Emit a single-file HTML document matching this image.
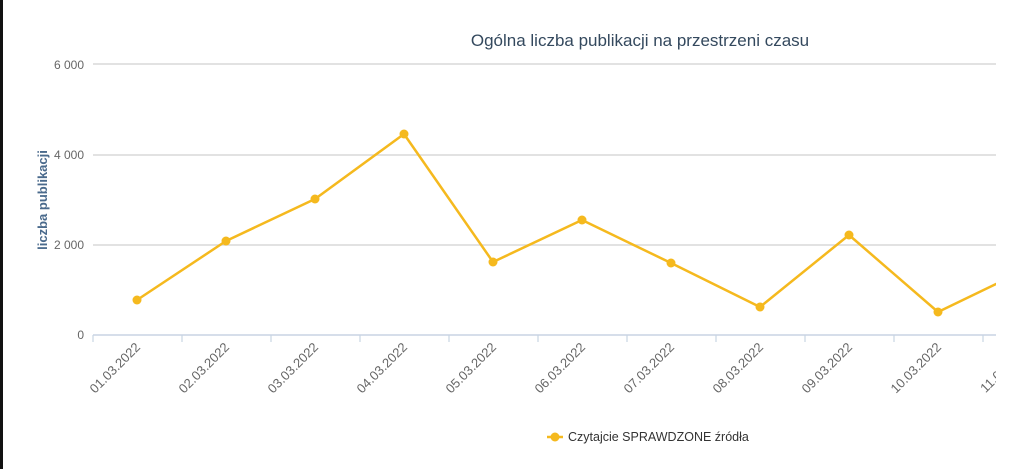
<!DOCTYPE html>
<html><head><meta charset="utf-8"><style>
body{margin:0;background:#fff;}
svg{display:block;font-family:"Liberation Sans",sans-serif;}
</style></head><body>
<svg width="1024" height="469" viewBox="0 0 1024 469">
<rect x="0" y="0" width="1024" height="469" fill="#fff"/>
<rect x="0" y="0" width="3" height="469" fill="#111"/>
<text x="640" y="46" text-anchor="middle" font-size="17" fill="#34495e">Ogólna liczba publikacji na przestrzeni czasu</text>
<g stroke="#d8d8d8" stroke-width="1.5">
<line x1="93" y1="64" x2="996" y2="64"/>
<line x1="93" y1="155" x2="996" y2="155"/>
<line x1="93" y1="245" x2="996" y2="245"/>
</g>
<line x1="93" y1="335" x2="996" y2="335" stroke="#c8d4e3" stroke-width="1.5"/>
<g stroke="#c8d4e3" stroke-width="1.2">
<line x1="93" y1="335" x2="93" y2="342"/><line x1="182" y1="335" x2="182" y2="342"/><line x1="271" y1="335" x2="271" y2="342"/><line x1="360" y1="335" x2="360" y2="342"/><line x1="449" y1="335" x2="449" y2="342"/><line x1="538" y1="335" x2="538" y2="342"/><line x1="627" y1="335" x2="627" y2="342"/><line x1="716" y1="335" x2="716" y2="342"/><line x1="805" y1="335" x2="805" y2="342"/><line x1="894" y1="335" x2="894" y2="342"/><line x1="983" y1="335" x2="983" y2="342"/>
</g>
<g font-size="12" fill="#666" text-anchor="end">
<text x="84" y="69">6 000</text><text x="84" y="159">4 000</text><text x="84" y="249">2 000</text><text x="84" y="339">0</text>
</g>
<text transform="translate(47,200) rotate(-90)" text-anchor="middle" font-size="13" font-weight="bold" fill="#4a6a8c">liczba publikacji</text>
<g font-size="13" fill="#666" text-anchor="end">
<text transform="translate(141,348) rotate(-45)">01.03.2022</text>
<text transform="translate(230,348) rotate(-45)">02.03.2022</text>
<text transform="translate(319,348) rotate(-45)">03.03.2022</text>
<text transform="translate(408,348) rotate(-45)">04.03.2022</text>
<text transform="translate(497,348) rotate(-45)">05.03.2022</text>
<text transform="translate(586,348) rotate(-45)">06.03.2022</text>
<text transform="translate(675,348) rotate(-45)">07.03.2022</text>
<text transform="translate(764,348) rotate(-45)">08.03.2022</text>
<text transform="translate(853,348) rotate(-45)">09.03.2022</text>
<text transform="translate(942,348) rotate(-45)">10.03.2022</text>
</g>
<clipPath id="c"><rect x="0" y="0" width="996" height="469"/></clipPath>
<g clip-path="url(#c)">
<text transform="translate(1031,348) rotate(-45)" text-anchor="end" font-size="13" fill="#666">11.03.2022</text>
<polyline fill="none" stroke="#f5b91e" stroke-width="2.5" stroke-linejoin="round" points="137,300 226,241 315,199 404,134 493,262 582,220 671,263 760,307 849,235 938,312 1027,269"/>
<g fill="#f5b91e">
<circle cx="137" cy="300" r="4.5"/><circle cx="226" cy="241" r="4.5"/><circle cx="315" cy="199" r="4.5"/><circle cx="404" cy="134" r="4.5"/><circle cx="493" cy="262" r="4.5"/><circle cx="582" cy="220" r="4.5"/><circle cx="671" cy="263" r="4.5"/><circle cx="760" cy="307" r="4.5"/><circle cx="849" cy="235" r="4.5"/><circle cx="938" cy="312" r="4.5"/>
</g>
</g>
<line x1="547" y1="437" x2="563" y2="437" stroke="#f5b91e" stroke-width="2.5"/>
<circle cx="555" cy="437" r="4.5" fill="#f5b91e"/>
<text x="568" y="441" font-size="12.5" fill="#333">Czytajcie SPRAWDZONE źródła</text>
</svg>
</body></html>
